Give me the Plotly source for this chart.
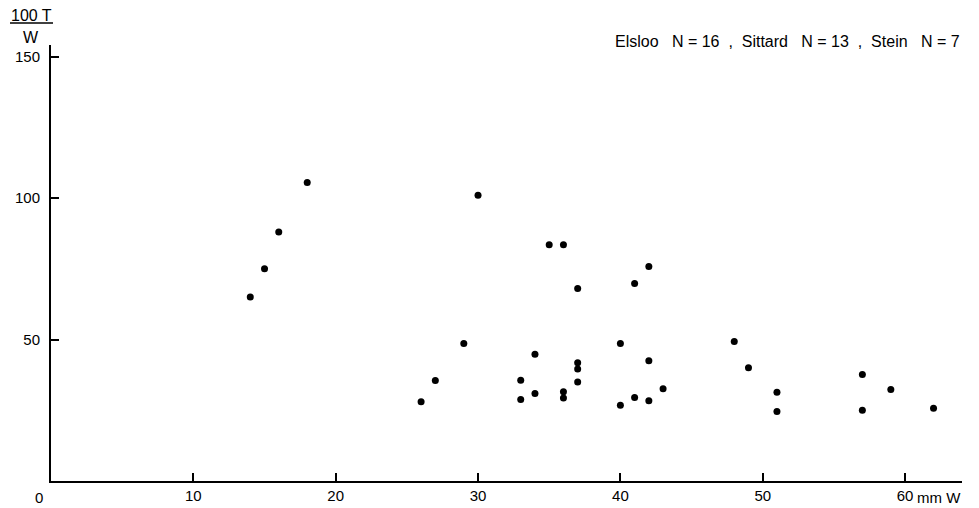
import plotly.graph_objects as go

# Shell width W (mm) against the ratio 100 T / W for the three sites
width_mm = [14, 15, 16, 18, 30, 26, 27, 29, 33, 33, 34, 34, 35, 36, 36, 36, 37, 37,
            37, 37, 40, 40, 41, 41, 42, 42, 42, 43, 48, 49, 51, 51, 57, 57, 59, 62]
ratio = [65, 75, 88, 105.5, 101, 28, 35.5, 48.6, 35.6, 28.8, 44.8, 30.9, 83.5, 83.5,
         31.5, 29.3, 41.8, 39.6, 35, 68, 48.6, 26.8, 29.5, 69.8, 75.8, 42.5, 28.4,
         32.6, 49.3, 40, 31.4, 24.6, 37.6, 25, 32.3, 25.7]

x_ticks = [10, 20, 30, 40, 50, 60]
y_ticks = [50, 100, 150]
NB = "\u00a0"
site_note = (f"Elsloo{NB*3}N{NB}={NB}16{NB*2},{NB*2}Sittard{NB*3}N{NB}={NB}13"
             f"{NB*2},{NB*2}Stein{NB*3}N{NB}={NB}7")

FONT = "Liberation Sans, Arial, Helvetica, sans-serif"
W, H = 979, 508
L, R, T, B = 51, 17, 45, 27
PW, PH = W - L - R, H - T - B


def px(xp):
    return (xp - L) / PW


def py(yp):
    return (H - B - yp) / PH


fig = go.Figure(go.Scatter(
    x=width_mm, y=ratio, mode="markers",
    marker=dict(color="black", size=7, line=dict(width=0)),
    showlegend=False, hoverinfo="x+y",
))

axis_common = dict(
    showline=True, linecolor="black", linewidth=2, mirror=False, automargin=False,
    showgrid=False, zeroline=False, ticks="inside", ticklen=8, tickwidth=1.5,
    tickcolor="black", tickfont=dict(family=FONT, size=15, color="black"),
)

fig.update_xaxes(range=[0, 64], tickvals=x_ticks, ticktext=[str(v) for v in x_ticks],
                 ticklabelstandoff=0, **axis_common)
fig.update_yaxes(range=[0, PH / 2.83], tickvals=y_ticks,
                 ticktext=[str(v) for v in y_ticks], ticklabelstandoff=6, **axis_common)

annotations = [
    dict(text="0", x=px(39), y=py(497), size=15),
    dict(text="mm" + NB + "W", x=px(963), y=py(497), size=15, xanchor="right"),
    dict(text="100 T", x=px(31), y=py(15), size=16),
    dict(text="W", x=px(31), y=py(37), size=16),
    dict(text=site_note, x=px(962), y=py(41), size=16, xanchor="right"),
]
for a in annotations:
    a["font"] = dict(family=FONT, size=a.pop("size"), color="black")
    a.update(xref="paper", yref="paper", showarrow=False, yanchor="middle")
    a.setdefault("xanchor", "center")

fig.update_layout(
    width=W, height=H,
    margin=dict(l=L, r=R, t=T, b=B, pad=0),
    paper_bgcolor="white", plot_bgcolor="white",
    annotations=annotations,
    shapes=[dict(type="line", xref="paper", yref="paper",
                 x0=px(10), x1=px(53), y0=py(23), y1=py(23),
                 line=dict(color="black", width=1.5))],
)

fig.write_html("out.html")
